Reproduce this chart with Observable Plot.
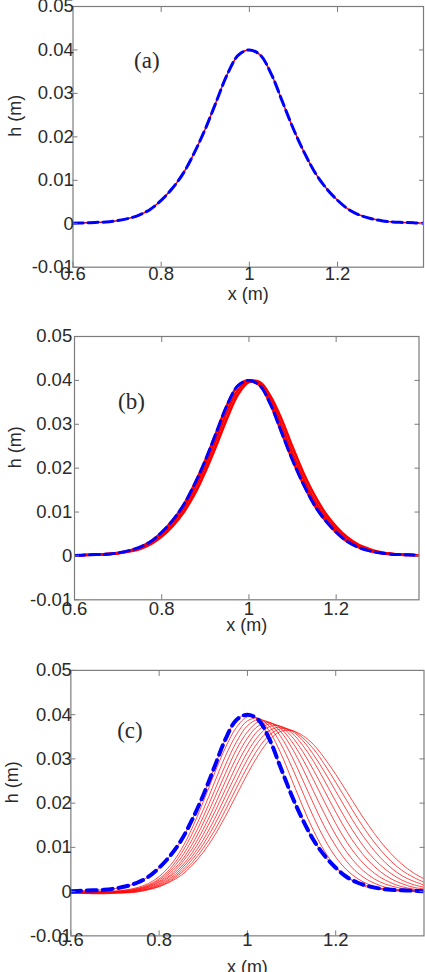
<!DOCTYPE html>
<html>
<head>
<meta charset="utf-8">
<script src="https://cdn.jsdelivr.net/npm/d3@7"></script>
<script src="https://cdn.jsdelivr.net/npm/@observablehq/plot@0.6"></script>
<style>
  html, body { margin: 0; padding: 0; background: #fff; }
  #fig { position: relative; width: 425px; height: 972px; overflow: hidden; background: #fff; }
  #fig svg { position: absolute; left: 0; }
</style>
</head>
<body>
<div id="fig"></div>
<script>
// Sampling positions along the channel, x (m)
const xGrid = [0.6, 0.625, 0.65, 0.675, 0.7, 0.725, 0.75, 0.775, 0.8, 0.825, 0.85, 0.875, 0.9, 0.925, 0.95, 0.975,
  1.0, 1.025, 1.05, 1.075, 1.1, 1.125, 1.15, 1.175, 1.2, 1.225, 1.25, 1.275, 1.3, 1.325, 1.35, 1.375, 1.4];

// Initial solitary-wave profile h (m)
const hInitial = [0.0001, 0.0002, 0.0003, 0.0004, 0.0007, 0.0012, 0.0020, 0.0033, 0.0054, 0.0081, 0.0116, 0.0163, 0.0218, 0.0281, 0.0344, 0.0388,
  0.0400, 0.0388, 0.0344, 0.0281, 0.0218, 0.0163, 0.0116, 0.0081, 0.0054, 0.0033, 0.0020, 0.0012, 0.0007, 0.0004, 0.0003, 0.0002, 0.0001];

// Case (b): profiles at later times, barely displaced
const hB1 = [0.0001, 0.0002, 0.0003, 0.0004, 0.0006, 0.0011, 0.0018, 0.0030, 0.0049, 0.0075, 0.0108, 0.0152, 0.0205, 0.0266, 0.0329, 0.0378,
  0.0399, 0.0393, 0.0355, 0.0296, 0.0233, 0.0176, 0.0127, 0.0089, 0.0060, 0.0038, 0.0023, 0.0014, 0.0008, 0.0005, 0.0003, 0.0002, 0.0001];
const hB2 = [0.0001, 0.0002, 0.0003, 0.0004, 0.0006, 0.0010, 0.0016, 0.0027, 0.0044, 0.0068, 0.0099, 0.0140, 0.0192, 0.0251, 0.0314, 0.0368,
  0.0396, 0.0396, 0.0363, 0.0311, 0.0248, 0.0189, 0.0139, 0.0098, 0.0067, 0.0043, 0.0026, 0.0016, 0.0009, 0.0005, 0.0003, 0.0002, 0.0001];

// Case (c): profiles at successive times, travelling and spreading
const hC1 = [0.0000, 0.0000, 0.0000, 0.0000, 0.0001, 0.0004, 0.0009, 0.0018, 0.0034, 0.0059, 0.0095, 0.0144, 0.0203, 0.0266, 0.0325, 0.0371,
  0.0395, 0.0391, 0.0362, 0.0314, 0.0254, 0.0193, 0.0137, 0.0091, 0.0056, 0.0033, 0.0018, 0.0009, 0.0005, 0.0002, 0.0001, 0.0000, 0.0000];
const hC2 = [-0.0001, -0.0001, -0.0001, 0.0000, 0.0001, 0.0003, 0.0007, 0.0015, 0.0029, 0.0052, 0.0086, 0.0131, 0.0185, 0.0246, 0.0306, 0.0355,
  0.0386, 0.0392, 0.0373, 0.0335, 0.0283, 0.0225, 0.0168, 0.0118, 0.0078, 0.0049, 0.0029, 0.0016, 0.0008, 0.0004, 0.0002, 0.0001, 0.0000];
const hC3 = [-0.0001, -0.0001, -0.0001, -0.0001, 0.0000, 0.0002, 0.0006, 0.0013, 0.0026, 0.0047, 0.0077, 0.0118, 0.0169, 0.0227, 0.0286, 0.0338,
  0.0375, 0.0389, 0.0380, 0.0351, 0.0307, 0.0253, 0.0198, 0.0146, 0.0103, 0.0068, 0.0042, 0.0025, 0.0014, 0.0007, 0.0004, 0.0002, 0.0001];
const hC4 = [-0.0002, -0.0002, -0.0002, -0.0001, 0.0000, 0.0001, 0.0005, 0.0012, 0.0023, 0.0042, 0.0069, 0.0107, 0.0155, 0.0210, 0.0267, 0.0321,
  0.0361, 0.0384, 0.0383, 0.0362, 0.0326, 0.0279, 0.0226, 0.0175, 0.0128, 0.0089, 0.0059, 0.0037, 0.0022, 0.0013, 0.0007, 0.0004, 0.0002];
const hC5 = [-0.0002, -0.0002, -0.0002, -0.0002, -0.0001, 0.0000, 0.0004, 0.0010, 0.0021, 0.0037, 0.0063, 0.0097, 0.0141, 0.0193, 0.0249, 0.0303,
  0.0347, 0.0375, 0.0382, 0.0369, 0.0340, 0.0300, 0.0252, 0.0202, 0.0154, 0.0112, 0.0078, 0.0052, 0.0033, 0.0020, 0.0011, 0.0006, 0.0003];
const hC6 = [-0.0002, -0.0002, -0.0003, -0.0002, -0.0002, 0.0000, 0.0003, 0.0009, 0.0018, 0.0034, 0.0056, 0.0088, 0.0129, 0.0178, 0.0231, 0.0285,
  0.0331, 0.0365, 0.0379, 0.0373, 0.0351, 0.0317, 0.0274, 0.0227, 0.0180, 0.0136, 0.0099, 0.0069, 0.0046, 0.0029, 0.0018, 0.0010, 0.0006];
const hC7 = [-0.0003, -0.0003, -0.0003, -0.0003, -0.0002, -0.0001, 0.0002, 0.0007, 0.0016, 0.0030, 0.0051, 0.0080, 0.0117, 0.0163, 0.0215, 0.0267,
  0.0315, 0.0352, 0.0373, 0.0374, 0.0359, 0.0331, 0.0294, 0.0250, 0.0204, 0.0160, 0.0121, 0.0087, 0.0061, 0.0041, 0.0026, 0.0016, 0.0010];
const hC8 = [-0.0003, -0.0003, -0.0004, -0.0004, -0.0003, -0.0002, 0.0001, 0.0006, 0.0014, 0.0027, 0.0046, 0.0073, 0.0107, 0.0150, 0.0199, 0.0250,
  0.0299, 0.0339, 0.0364, 0.0372, 0.0363, 0.0342, 0.0309, 0.0270, 0.0227, 0.0184, 0.0143, 0.0108, 0.0078, 0.0054, 0.0036, 0.0024, 0.0015];
const hC9 = [-0.0004, -0.0004, -0.0004, -0.0004, -0.0003, -0.0002, 0.0000, 0.0005, 0.0012, 0.0024, 0.0042, 0.0066, 0.0098, 0.0137, 0.0184, 0.0234,
  0.0282, 0.0324, 0.0354, 0.0368, 0.0365, 0.0348, 0.0322, 0.0287, 0.0247, 0.0206, 0.0165, 0.0128, 0.0096, 0.0069, 0.0048, 0.0033, 0.0021];
const hC10 = [-0.0004, -0.0004, -0.0005, -0.0005, -0.0004, -0.0003, -0.0001, 0.0004, 0.0011, 0.0022, 0.0037, 0.0060, 0.0089, 0.0126, 0.0170, 0.0218,
  0.0266, 0.0309, 0.0343, 0.0362, 0.0364, 0.0353, 0.0332, 0.0301, 0.0265, 0.0226, 0.0186, 0.0149, 0.0115, 0.0086, 0.0062, 0.0043, 0.0029];

// Axis ticks
const xTicks = [0.6, 0.8, 1, 1.2];
const hTicks = [-0.01, 0, 0.01, 0.02, 0.03, 0.04, 0.05];

const AXIS = "#7c7c7c", INK = "#2a2a2a", RED = "#ff0000", BLUE = "#0000ff";
const fig = document.getElementById("fig");

const profile = (h) => xGrid.map((x, i) => ({x, h: h[i]}));
const family = (list) => list.flatMap((h, k) => xGrid.map((x, i) => ({k, x, h: h[i]})));

function panel(cfg) {
  const svg = Plot.plot({
    width: cfg.width ?? 425,
    height: cfg.height,
    marginTop: cfg.mt, marginBottom: cfg.mb, marginLeft: cfg.ml, marginRight: cfg.mr,
    x: {domain: [0.6, cfg.xMax]},
    y: {domain: [-0.01, 0.05]},
    style: {fontFamily: "'Liberation Sans', Arial, sans-serif", fontSize: "18px", color: INK, background: "transparent", overflow: "visible"},
    marks: [
      ...cfg.marks,
      Plot.frame({stroke: AXIS, strokeWidth: 1.2}),
      Plot.axisX({ticks: xTicks, anchor: "bottom", tickSize: -5, tickPadding: 5 + cfg.padX, stroke: AXIS, fill: INK, fontSize: 18.5, tickFormat: (d) => String(d), label: null}),
      Plot.axisX({ticks: xTicks.slice(1), anchor: "top", tickSize: -5, stroke: AXIS, fill: "none", label: null}),
      Plot.axisY({ticks: hTicks, anchor: "left", tickSize: -5, tickPadding: 5 + cfg.padY, stroke: AXIS, fill: INK, fontSize: 18.5, tickFormat: (d) => String(d), label: null}),
      Plot.axisY({ticks: hTicks.slice(1, -1), anchor: "right", tickSize: -5, stroke: AXIS, fill: "none", label: null}),
      Plot.text(["x (m)"], {text: (d) => d, frameAnchor: "bottom", dy: cfg.xLabelDy, fontSize: 18, fill: INK}),
      Plot.text(["h (m)"], {text: (d) => d, frameAnchor: "left", dx: cfg.hLabelDx, rotate: -90, fontSize: 18, fill: INK}),
      Plot.text([cfg.tag], {text: (d) => d, frameAnchor: "top-left", dx: cfg.tagDx, dy: cfg.tagDy, textAnchor: "middle",
        fontFamily: "'Liberation Serif', 'Times New Roman', serif", fontSize: 23, fill: INK})
    ]
  });
  svg.style.top = cfg.top + "px";
  fig.append(svg);
}

// (a) computed and initial profiles coincide
panel({
  top: 0, height: 320, mt: 6, mb: 53.3, ml: 72.5, mr: 2, xMax: 1.395,
  padX: 0, padY: -0.8, xLabelDy: 32.3, hLabelDx: -57.5, tag: "(a)", tagDx: 73.8, tagDy: 44.7,
  marks: [
    Plot.line(profile(hInitial), {x: "x", y: "h", stroke: RED, strokeWidth: 1.5, curve: "catmull-rom", clip: true}),
    Plot.line(profile(hInitial), {x: "x", y: "h", stroke: BLUE, strokeWidth: 3, strokeDasharray: "10,5", curve: "catmull-rom", clip: true})
  ]
});

// (b) slight drift of the crest
panel({
  top: 320, height: 330, mt: 16, mb: 50.7, ml: 74, mr: 6.5, xMax: 1.39,
  padX: 1.7, padY: 2.3, xLabelDy: 30.7, hLabelDx: -59, tag: "(b)", tagDx: 57, tagDy: 55.7,
  marks: [
    Plot.line(family([hInitial, hB1, hB2]), {x: "x", y: "h", z: "k", stroke: RED, strokeWidth: 2.6, curve: "catmull-rom", clip: true}),
    Plot.line(profile(hInitial), {x: "x", y: "h", stroke: BLUE, strokeWidth: 3, strokeDasharray: "10,5", curve: "catmull-rom", clip: true})
  ]
});

// (c) the wave travels right, losing height and spreading
panel({
  top: 650, height: 322, width: 427, mt: 20, mb: 35.3, ml: 70.7, mr: 1.5, xMax: 1.4,
  padX: -3, padY: -1, xLabelDy: 37.5, hLabelDx: -58.7, tag: "(c)", tagDx: 59.3, tagDy: 51.7,
  marks: [
    Plot.line(family([hInitial, hC1, hC2, hC3, hC4, hC5, hC6, hC7, hC8, hC9, hC10]), {x: "x", y: "h", z: "k", stroke: RED, strokeWidth: 0.8, strokeOpacity: 0.9, curve: "catmull-rom", clip: true}),
    Plot.line(profile(hInitial), {x: "x", y: "h", stroke: BLUE, strokeWidth: 4, strokeDasharray: "10,6", curve: "catmull-rom", clip: true})
  ]
});
</script>
</body>
</html>
